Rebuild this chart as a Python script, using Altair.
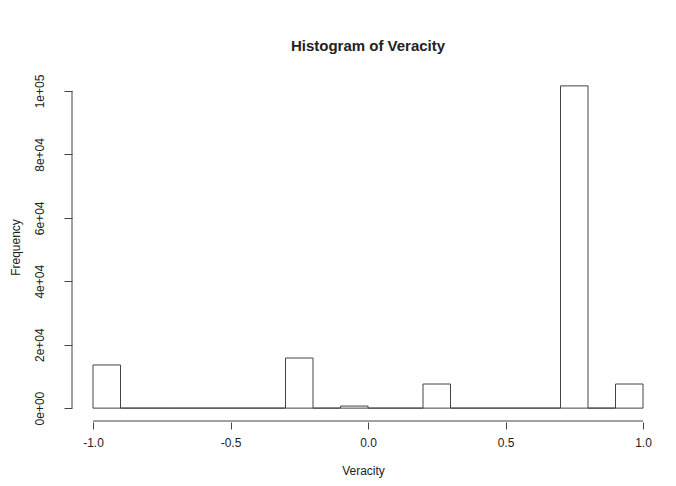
import altair as alt
import pandas as pd

bin_start = [-1.0, -0.9, -0.8, -0.7, -0.6, -0.5, -0.4, -0.3, -0.2, -0.1,
             0.0, 0.1, 0.2, 0.3, 0.4, 0.5, 0.6, 0.7, 0.8, 0.9]
bin_end = [-0.9, -0.8, -0.7, -0.6, -0.5, -0.4, -0.3, -0.2, -0.1, 0.0,
           0.1, 0.2, 0.3, 0.4, 0.5, 0.6, 0.7, 0.8, 0.9, 1.0]
counts = [13600, 0, 0, 0, 0, 0, 0, 15800, 0, 650,
          0, 0, 7600, 0, 0, 0, 0, 101600, 0, 7600]

x_ticks = [-1.0, -0.5, 0.0, 0.5, 1.0]
x_labels = ["-1.0", "-0.5", "0.0", "0.5", "1.0"]
y_ticks = [0, 20000, 40000, 60000, 80000, 100000]
y_labels = ["0e+00", "2e+04", "4e+04", "6e+04", "8e+04", "1e+05"]

df = pd.DataFrame({"start": bin_start, "end": bin_end, "count": counts})

XDOM = [-1.0764, 1.04]
YDOM = [-4064, 105664]
W, H = 582, 348
FONT = "Liberation Sans"
TXT = "#222222"
LINE = "#444444"


def label_expr(vals, labs):
    parts = []
    for v, l in zip(vals, labs):
        parts.append(f"abs(datum.value - ({v})) < 1e-6 ? '{l}'")
    return " : ".join(parts) + " : ''"


xscale = alt.Scale(domain=XDOM, nice=False, zero=False)
yscale = alt.Scale(domain=YDOM, nice=False, zero=False)

bars = alt.Chart(df).mark_rect(
    fill="white", stroke=LINE, strokeWidth=1
).encode(
    x=alt.X("start:Q", scale=xscale, axis=alt.Axis(
        values=x_ticks, labelExpr=label_expr(x_ticks, x_labels),
        domain=False, grid=False, tickSize=7, tickColor=LINE, tickWidth=1,
        labelFont=FONT, labelFontSize=12, labelColor=TXT, labelPadding=8,
        offset=1, title="Veracity", titleFont=FONT, titleFontSize=12,
        titleFontWeight="normal", titleColor=TXT, titlePadding=17)),
    x2="end:Q",
    y=alt.Y("count:Q", scale=yscale, axis=alt.Axis(
        values=y_ticks, labelExpr=label_expr(y_ticks, y_labels),
        domain=False, grid=False, tickSize=8, tickColor=LINE, tickWidth=1,
        labelFont=FONT, labelFontSize=12, labelColor=TXT, labelAngle=270,
        labelAlign="center", labelBaseline="bottom", labelPadding=18,
        title="Frequency", titleFont=FONT, titleFontSize=12,
        titleFontWeight="normal", titleColor=TXT, titlePadding=11)),
    y2=alt.datum(0),
)

xaxis_df = pd.DataFrame({"a": [x_ticks[0]], "b": [x_ticks[-1]], "y": [YDOM[0]]})
xline = alt.Chart(xaxis_df).mark_rule(color=LINE, strokeWidth=1).encode(
    x=alt.X("a:Q", scale=xscale), x2="b:Q", y=alt.Y("y:Q", scale=yscale)
)
yaxis_df = pd.DataFrame({"a": [y_ticks[0]], "b": [y_ticks[-1]], "x": [XDOM[0]]})
yline = alt.Chart(yaxis_df).mark_rule(color=LINE, strokeWidth=1).encode(
    y=alt.Y("a:Q", scale=yscale), y2="b:Q", x=alt.X("x:Q", scale=xscale)
)

chart = alt.layer(bars, xline, yline).properties(
    width=W, height=H,
    title=alt.Title("Histogram of Veracity", font=FONT, fontSize=15,
                    fontWeight="bold", color=TXT, anchor="middle",
                    offset=19, dx=5),
    autosize=alt.AutoSizeParams(type="none"),
    padding={"left": 64, "top": 65, "right": 14, "bottom": 57},
    background="white",
).configure_view(stroke=None)

chart.save("out.html", embed_options={"renderer": "svg", "actions": False})
